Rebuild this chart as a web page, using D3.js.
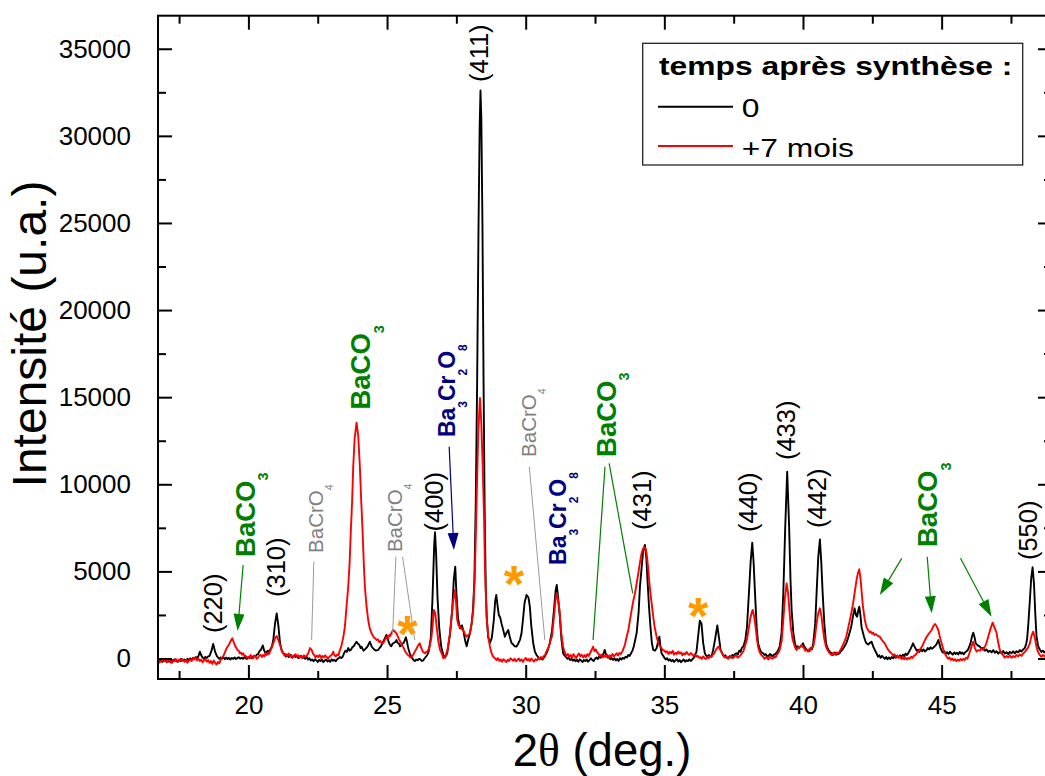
<!DOCTYPE html>
<html><head><meta charset="utf-8">
<script src="https://cdn.jsdelivr.net/npm/d3@7"></script>
<style>
body{margin:0;background:#fff}
svg{display:block}
text{font-family:"Liberation Sans",Arial,sans-serif}
</style>
</head><body>
<svg id="chart" width="1045" height="776"></svg>
<script>
// ---------------- DATA ----------------
const xDomain = [16.74, 48.98];
const yDomain = [-1177, 36897];
const xTicksMajor = [20, 25, 30, 35, 40, 45];
const xTicksMinor = [17.5, 22.5, 27.5, 32.5, 37.5, 42.5, 47.5];
const yTicksMajor = [0, 5000, 10000, 15000, 20000, 25000, 30000, 35000];
const yTicksMinor = [2500, 7500, 12500, 17500, 22500, 27500, 32500];

const legendTitle = "temps après synthèse :";
const seriesNames = ["0", "+7 mois"];
const seriesColors = ["#000000", "#ff0000"];

// scan at t = 0  [2theta, intensity]
const scan0 = [
[16.75,-150],[16.8,-40],[16.85,-110],[16.9,-200],[16.95,-90],[17.0,-160],[17.05,-60],[17.1,-190],[17.15,-110],[17.2,-230],
[17.25,-90],[17.3,-150],[17.35,-40],[17.4,-130],[17.45,-200],[17.5,-80],[17.55,-140],[17.6,-30],[17.65,-120],[17.7,-60],
[17.75,-170],[17.8,-20],[17.85,-90],[17.9,10],[17.95,-80],[18.0,40],[18.05,-30],[18.1,90],[18.15,20],[18.2,150],
[18.25,390],[18.3,180],[18.35,60],[18.4,-20],[18.45,90],[18.5,30],[18.55,120],[18.6,150],[18.67,450],[18.73,830],
[18.8,380],[18.87,120],[18.95,-20],[19.0,60],[19.05,-10],[19.1,70],[19.15,-40],[19.2,50],[19.25,-30],[19.3,40],
[19.35,-60],[19.4,30],[19.45,-20],[19.5,60],[19.55,-30],[19.6,20],[19.65,70],[19.7,-10],[19.75,40],[19.8,-20],
[19.85,80],[19.9,10],[19.95,-20],[20.0,60],[20.05,110],[20.1,30],[20.15,90],[20.2,160],[20.25,100],[20.3,220],
[20.35,250],[20.4,420],[20.45,500],[20.52,750],[20.57,450],[20.62,300],[20.7,450],[20.75,380],[20.8,550],[20.85,700],
[20.9,1100],[20.96,2000],[21.02,2590],[21.08,1900],[21.14,900],[21.2,450],[21.25,320],[21.3,250],[21.35,120],[21.4,200],
[21.45,80],[21.5,220],[21.55,100],[21.6,40],[21.65,180],[21.7,90],[21.75,160],[21.8,20],[21.85,110],[21.9,150],
[21.95,30],[22.0,90],[22.05,-20],[22.1,100],[22.15,-60],[22.2,20],[22.25,-120],[22.3,-60],[22.35,-160],[22.4,-40],
[22.45,-110],[22.5,-200],[22.55,-80],[22.6,-150],[22.65,-50],[22.7,-210],[22.75,-120],[22.8,-60],[22.85,-170],[22.9,-100],
[22.95,-190],[23.0,-50],[23.05,-130],[23.1,-80],[23.15,-160],[23.2,-40],[23.25,20],[23.3,80],[23.35,30],[23.4,100],
[23.45,300],[23.5,450],[23.55,380],[23.6,600],[23.65,450],[23.7,500],[23.75,650],[23.8,700],[23.85,850],[23.9,965],
[23.95,850],[24.0,780],[24.05,600],[24.08,680],[24.15,450],[24.2,520],[24.25,600],[24.3,700],[24.38,965],[24.44,700],
[24.5,585],[24.55,500],[24.6,450],[24.68,490],[24.73,600],[24.78,700],[24.82,850],[24.86,965],[24.92,1150],[24.98,1350],
[25.05,1000],[25.1,800],[25.15,700],[25.2,850],[25.25,900],[25.3,950],[25.34,1060],[25.38,900],[25.43,850],[25.47,700],
[25.52,775],[25.56,850],[25.6,900],[25.64,1050],[25.68,1215],[25.72,950],[25.75,700],[25.78,500],[25.82,300],[25.86,150],
[25.9,50],[25.95,-80],[26.0,-150],[26.05,-60],[26.1,-100],[26.15,-20],[26.2,-50],[26.25,-140],[26.3,-120],[26.35,0],
[26.4,100],[26.45,200],[26.5,400],[26.58,1200],[26.64,3500],[26.7,6500],[26.73,7250],[26.77,6000],[26.82,3500],[26.88,1800],
[26.95,700],[27.03,200],[27.09,50],[27.17,300],[27.27,1400],[27.35,2800],[27.41,4600],[27.46,5270],[27.5,3800],[27.56,2300],
[27.63,1730],[27.7,1900],[27.75,1610],[27.82,1000],[27.87,700],[27.93,1100],[27.99,1450],[28.05,2000],[28.1,2800],[28.15,4500],
[28.2,9000],[28.25,16000],[28.3,25000],[28.34,30500],[28.37,32600],[28.4,31000],[28.44,25000],[28.48,16000],[28.52,8500],[28.56,4000],
[28.6,2200],[28.65,1200],[28.71,890],[28.78,1200],[28.85,2200],[28.9,3300],[28.94,3645],[28.98,3100],[29.03,2500],[29.08,2350],
[29.13,2000],[29.18,1700],[29.25,1250],[29.3,1450],[29.37,1636],[29.43,1200],[29.49,890],[29.55,800],[29.61,700],[29.67,680],
[29.73,850],[29.8,1100],[29.85,1450],[29.9,2200],[29.96,3200],[30.03,3645],[30.1,3500],[30.15,2975],[30.2,1900],[30.27,890],
[30.33,400],[30.39,200],[30.45,80],[30.5,-40],[30.55,20],[30.6,-60],[30.65,40],[30.7,150],[30.74,280],[30.78,400],
[30.87,890],[30.95,1600],[31.02,2800],[31.08,3900],[31.12,4220],[31.17,3500],[31.23,2400],[31.29,1100],[31.35,300],[31.4,180],
[31.45,100],[31.5,-20],[31.55,40],[31.6,-90],[31.65,-20],[31.7,-130],[31.75,-40],[31.8,-160],[31.85,-70],[31.9,-190],
[31.95,-50],[32.0,-120],[32.05,-200],[32.1,-80],[32.15,-150],[32.2,-60],[32.25,-180],[32.3,-90],[32.35,10],[32.4,-80],
[32.45,-150],[32.5,-20],[32.55,60],[32.6,-30],[32.65,110],[32.7,40],[32.75,180],[32.8,250],[32.85,490],[32.9,220],
[32.95,60],[33.0,120],[33.05,-40],[33.1,30],[33.15,-80],[33.2,10],[33.25,-110],[33.3,-30],[33.35,-140],[33.4,20],
[33.45,-60],[33.5,40],[33.55,-20],[33.6,100],[33.65,60],[33.7,200],[33.75,150],[33.8,300],[33.85,450],[33.9,700],
[34.0,1446],[34.07,2600],[34.12,4120],[34.18,5200],[34.24,6230],[34.3,6515],[34.35,5800],[34.4,4300],[34.45,2900],[34.5,1800],
[34.55,900],[34.6,490],[34.66,450],[34.72,585],[34.78,1000],[34.82,1250],[34.86,700],[34.9,300],[35.0,50],[35.05,-60],
[35.1,20],[35.15,-120],[35.2,-50],[35.25,-160],[35.3,-80],[35.35,-200],[35.4,-110],[35.45,-40],[35.5,-170],[35.55,-90],
[35.6,-210],[35.65,-130],[35.7,-60],[35.75,-180],[35.8,-100],[35.85,-150],[35.9,-50],[35.95,-140],[36.0,-70],[36.05,20],
[36.1,150],[36.16,390],[36.22,1300],[36.28,2170],[36.34,2000],[36.4,900],[36.46,300],[36.5,180],[36.55,100],[36.6,200],
[36.65,150],[36.7,100],[36.76,490],[36.83,1100],[36.91,1900],[36.97,1200],[37.03,490],[37.1,250],[37.15,120],[37.2,180],
[37.25,40],[37.3,10],[37.35,130],[37.4,60],[37.45,200],[37.5,140],[37.55,260],[37.6,300],[37.65,220],[37.7,450],
[37.75,380],[37.79,600],[37.85,700],[37.92,1062],[37.98,1800],[38.05,3740],[38.11,5500],[38.17,6650],[38.22,5500],[38.27,3740],
[38.33,1800],[38.38,870],[38.45,500],[38.5,350],[38.56,300],[38.61,200],[38.66,250],[38.71,120],[38.76,150],[38.81,260],
[38.85,200],[38.9,120],[38.95,220],[39.0,250],[39.04,330],[39.08,400],[39.16,680],[39.23,1500],[39.29,3740],[39.36,7565],
[39.43,10720],[39.5,7565],[39.55,4500],[39.59,2780],[39.65,1500],[39.71,870],[39.76,620],[39.8,700],[39.85,600],[39.89,680],
[39.95,750],[40.0,870],[40.04,700],[40.07,650],[40.13,500],[40.19,490],[40.23,420],[40.27,600],[40.32,520],[40.37,870],
[40.44,2000],[40.49,3740],[40.55,5800],[40.61,6840],[40.66,5500],[40.71,3740],[40.77,2000],[40.83,870],[40.88,620],[40.92,500],
[40.97,380],[41.03,300],[41.08,200],[41.15,350],[41.2,220],[41.25,250],[41.32,300],[41.37,420],[41.42,500],[41.5,700],
[41.56,870],[41.65,1300],[41.74,1825],[41.8,2400],[41.86,2880],[41.91,2500],[41.95,2400],[42.0,2800],[42.03,2975],[42.07,2500],
[42.11,1825],[42.16,1500],[42.2,1250],[42.25,1000],[42.29,870],[42.35,800],[42.42,900],[42.47,965],[42.53,700],[42.59,490],
[42.65,300],[42.71,100],[42.75,180],[42.8,40],[42.85,150],[42.9,60],[42.95,-20],[43.0,80],[43.05,-40],[43.1,60],
[43.15,-30],[43.2,90],[43.25,10],[43.3,120],[43.35,40],[43.4,150],[43.45,60],[43.5,180],[43.55,100],[43.6,220],
[43.65,140],[43.7,280],[43.75,200],[43.8,320],[43.88,550],[43.97,870],[44.0,750],[44.05,600],[44.1,450],[44.15,500],
[44.2,380],[44.25,560],[44.3,420],[44.35,520],[44.4,400],[44.46,490],[44.5,600],[44.55,520],[44.6,640],[44.65,560],
[44.7,620],[44.75,700],[44.8,780],[44.84,900],[44.88,1062],[44.92,850],[44.96,600],[45.0,450],[45.05,330],[45.1,420],
[45.15,280],[45.2,360],[45.25,250],[45.3,390],[45.35,300],[45.4,220],[45.45,350],[45.5,260],[45.55,330],[45.6,230],
[45.65,380],[45.7,270],[45.75,340],[45.8,240],[45.85,360],[45.9,420],[45.95,500],[46.04,870],[46.1,1300],[46.14,1480],
[46.19,1200],[46.23,870],[46.3,750],[46.38,680],[46.44,560],[46.5,620],[46.56,450],[46.62,520],[46.68,380],[46.74,450],
[46.8,350],[46.86,480],[46.92,330],[46.98,420],[47.04,280],[47.1,380],[47.16,300],[47.22,430],[47.28,280],[47.34,360],
[47.4,250],[47.46,380],[47.52,300],[47.58,410],[47.64,290],[47.7,420],[47.76,350],[47.82,480],[47.88,400],[47.94,520],
[48.0,600],[48.05,850],[48.08,1100],[48.12,1825],[48.18,3300],[48.23,4600],[48.28,5235],[48.33,4300],[48.38,2500],[48.42,1300],
[48.48,700],[48.55,490],[48.6,380],[48.65,450],[48.7,350],[48.75,420],[48.8,400],[48.98,350]
];

// scan at t = +7 months
const scan7 = [
[16.75,-100],[16.8,-230],[16.85,-130],[16.9,-40],[16.95,-150],[17.0,-80],[17.05,-220],[17.1,-100],[17.15,-30],[17.2,-170],
[17.25,-250],[17.3,-90],[17.35,-160],[17.4,-40],[17.45,-200],[17.5,-100],[17.55,-20],[17.6,-150],[17.65,-60],[17.7,-190],
[17.75,-80],[17.8,-240],[17.85,-130],[17.9,-40],[17.95,-150],[18.0,20],[18.05,-60],[18.1,60],[18.15,-100],[18.2,-20],
[18.25,-150],[18.3,-60],[18.35,-220],[18.4,-100],[18.45,-30],[18.5,-180],[18.55,-90],[18.6,-250],[18.65,-150],[18.7,-310],
[18.75,-120],[18.8,-240],[18.85,-350],[18.9,-200],[18.95,-280],[19.0,-80],[19.05,50],[19.1,150],[19.16,380],[19.21,585],
[19.26,700],[19.3,800],[19.36,1000],[19.42,1160],[19.48,900],[19.53,700],[19.57,585],[19.61,480],[19.65,450],[19.69,300],
[19.73,350],[19.77,220],[19.81,300],[19.85,180],[19.9,150],[19.95,40],[20.0,100],[20.04,0],[20.08,200],[20.12,80],
[20.17,0],[20.21,160],[20.25,120],[20.3,-20],[20.35,50],[20.4,180],[20.45,200],[20.49,90],[20.53,200],[20.58,120],
[20.62,300],[20.66,200],[20.7,350],[20.74,250],[20.78,390],[20.85,650],[20.92,965],[20.97,1200],[21.02,1290],[21.08,1050],
[21.14,775],[21.2,500],[21.25,300],[21.3,180],[21.35,260],[21.4,150],[21.45,280],[21.5,90],[21.55,200],[21.6,60],
[21.65,170],[21.7,240],[21.75,110],[21.8,190],[21.85,40],[21.9,130],[21.95,60],[22.0,180],[22.05,90],[22.1,160],
[22.16,300],[22.22,600],[22.28,490],[22.33,280],[22.38,180],[22.42,60],[22.47,170],[22.52,80],[22.57,200],[22.62,30],
[22.67,150],[22.72,60],[22.77,180],[22.82,90],[22.87,-20],[22.92,100],[22.98,180],[23.02,250],[23.06,390],[23.1,200],
[23.15,120],[23.2,230],[23.25,180],[23.28,400],[23.32,550],[23.36,775],[23.42,1200],[23.48,1825],[23.54,3000],[23.6,4120],
[23.65,5500],[23.69,7186],[23.74,9000],[23.78,11010],[23.83,12600],[23.9,13535],[23.96,12800],[24.02,11010],[24.07,9000],[24.12,7186],
[24.16,5500],[24.2,4120],[24.26,3000],[24.32,2210],[24.38,1700],[24.44,1446],[24.49,1300],[24.53,1200],[24.58,1150],[24.62,1062],
[24.67,1100],[24.72,950],[24.76,1000],[24.8,900],[24.86,870],[24.92,1060],[25.0,1250],[25.04,1150],[25.08,1350],[25.12,1300],
[25.15,1450],[25.22,1636],[25.28,1550],[25.34,1446],[25.38,1300],[25.43,1100],[25.48,950],[25.52,870],[25.56,700],[25.6,600],
[25.65,420],[25.7,300],[25.75,200],[25.8,150],[25.84,60],[25.88,100],[25.93,180],[25.97,300],[26.02,450],[26.07,585],
[26.12,750],[26.18,870],[26.22,650],[26.25,550],[26.29,400],[26.32,350],[26.37,300],[26.41,380],[26.45,400],[26.52,585],
[26.6,1200],[26.64,1825],[26.69,2780],[26.74,2600],[26.79,1800],[26.85,1000],[26.91,500],[26.97,300],[27.03,10],[27.1,100],
[27.18,500],[27.27,1446],[27.34,2600],[27.39,3360],[27.45,3930],[27.49,3200],[27.53,2210],[27.58,1900],[27.63,1825],[27.69,1700],
[27.75,1610],[27.81,1400],[27.87,1250],[27.93,1350],[27.99,1446],[28.05,2000],[28.11,2780],[28.17,5000],[28.23,9100],[28.29,13000],
[28.35,14950],[28.4,13500],[28.45,11010],[28.5,8000],[28.53,5270],[28.59,2400],[28.65,1300],[28.71,680],[28.77,300],[28.83,100],
[28.9,0],[28.95,-90],[29.0,20],[29.05,-140],[29.1,-60],[29.15,-180],[29.2,-40],[29.25,-120],[29.3,-200],[29.35,-70],
[29.4,-150],[29.45,10],[29.5,-60],[29.55,-130],[29.6,-20],[29.65,-160],[29.7,-80],[29.75,0],[29.8,-140],[29.85,-50],
[29.9,-190],[29.95,-60],[30.0,30],[30.05,-100],[30.1,-30],[30.15,-150],[30.2,0],[30.25,-90],[30.3,-170],[30.35,-40],
[30.4,-110],[30.45,20],[30.5,-50],[30.55,80],[30.6,20],[30.65,130],[30.7,200],[30.74,380],[30.78,500],[30.83,650],
[30.87,890],[30.95,1300],[31.02,2400],[31.08,3400],[31.12,3740],[31.17,3300],[31.22,2780],[31.28,1500],[31.35,680],[31.42,300],
[31.47,150],[31.52,260],[31.57,90],[31.62,200],[31.67,50],[31.72,250],[31.77,130],[31.82,30],[31.87,180],[31.92,290],
[31.97,120],[32.02,220],[32.07,60],[32.12,190],[32.17,80],[32.22,250],[32.27,140],[32.32,300],[32.38,500],[32.43,680],
[32.48,420],[32.53,520],[32.58,350],[32.63,260],[32.68,130],[32.73,220],[32.78,60],[32.83,170],[32.88,90],[32.93,230],
[32.98,40],[33.03,180],[33.08,80],[33.13,260],[33.18,120],[33.23,200],[33.28,300],[33.33,170],[33.38,320],[33.43,250],
[33.5,450],[33.58,800],[33.64,1250],[33.7,1600],[33.76,2200],[33.82,2780],[33.88,3300],[33.94,3740],[34.0,4300],[34.06,4890],
[34.12,5500],[34.18,6040],[34.23,6300],[34.27,6380],[34.32,6300],[34.36,6040],[34.41,5300],[34.45,4505],[34.51,3600],[34.57,2780],
[34.64,1900],[34.72,1250],[34.8,800],[34.85,700],[34.9,585],[34.95,480],[35.0,450],[35.05,350],[35.1,420],[35.15,260],
[35.2,380],[35.25,300],[35.3,440],[35.35,220],[35.4,330],[35.45,250],[35.5,400],[35.55,280],[35.6,350],[35.65,180],
[35.7,300],[35.75,230],[35.8,380],[35.85,260],[35.9,200],[35.95,320],[36.0,250],[36.05,150],[36.1,230],[36.15,100],
[36.2,160],[36.25,40],[36.3,80],[36.35,-20],[36.4,120],[36.45,30],[36.5,-30],[36.55,80],[36.6,20],[36.65,140],
[36.7,100],[36.75,220],[36.8,300],[36.88,550],[36.95,680],[37.03,450],[37.12,200],[37.18,60],[37.25,100],[37.3,-20],
[37.35,80],[37.4,150],[37.45,20],[37.5,50],[37.55,160],[37.6,150],[37.65,40],[37.7,100],[37.75,200],[37.8,300],
[37.85,420],[37.9,680],[37.98,1100],[38.04,1700],[38.1,2300],[38.16,2700],[38.19,2780],[38.24,2400],[38.29,1825],[38.34,1100],
[38.38,680],[38.42,450],[38.46,300],[38.51,180],[38.56,100],[38.61,-20],[38.66,80],[38.7,50],[38.75,-60],[38.8,100],
[38.85,20],[38.92,0],[38.97,120],[39.01,60],[39.05,200],[39.1,300],[39.16,490],[39.23,1000],[39.29,2210],[39.35,3500],
[39.41,4315],[39.46,3800],[39.5,2975],[39.56,1800],[39.63,1062],[39.7,700],[39.74,550],[39.77,490],[39.81,600],[39.86,600],
[39.91,700],[39.95,785],[40.0,650],[40.04,600],[40.08,450],[40.13,490],[40.18,400],[40.23,550],[40.27,480],[40.3,600],
[40.37,680],[40.43,1200],[40.49,2020],[40.55,2600],[40.61,2880],[40.66,2500],[40.71,1825],[40.77,1100],[40.83,680],[40.88,500],
[40.92,400],[40.97,280],[41.03,200],[41.08,320],[41.12,300],[41.17,220],[41.22,350],[41.27,300],[41.32,400],[41.37,550],
[41.42,700],[41.5,1000],[41.56,1250],[41.65,1900],[41.74,2590],[41.8,3100],[41.86,3740],[41.93,4500],[41.98,4900],[42.03,5120],
[42.08,4500],[42.11,3930],[42.16,3000],[42.23,2210],[42.29,1800],[42.35,1636],[42.4,1500],[42.44,1550],[42.49,1420],[42.53,1480],
[42.58,1350],[42.63,1400],[42.7,1300],[42.77,1250],[42.81,1150],[42.85,1050],[42.9,950],[42.95,870],[43.0,700],[43.05,550],
[43.12,400],[43.19,300],[43.25,180],[43.3,240],[43.35,90],[43.4,170],[43.45,40],[43.5,120],[43.55,-30],[43.6,80],
[43.65,-40],[43.7,60],[43.75,-60],[43.8,40],[43.85,-20],[43.9,100],[43.95,30],[44.0,150],[44.05,200],[44.13,350],
[44.21,490],[44.3,700],[44.38,1000],[44.46,1250],[44.55,1450],[44.64,1636],[44.7,1850],[44.76,1980],[44.82,1850],[44.88,1636],
[44.94,1200],[45.0,870],[45.04,650],[45.08,400],[45.13,250],[45.18,100],[45.23,-20],[45.28,60],[45.33,-80],[45.38,0],
[45.43,-120],[45.48,-40],[45.53,-150],[45.58,-60],[45.63,-130],[45.68,-30],[45.73,-110],[45.78,-20],[45.83,-90],[45.88,40],
[45.93,-10],[45.98,200],[46.04,490],[46.1,800],[46.14,965],[46.2,600],[46.26,400],[46.32,480],[46.38,450],[46.44,560],
[46.5,490],[46.55,650],[46.6,800],[46.68,1250],[46.76,1700],[46.84,2055],[46.9,1800],[46.98,1480],[47.04,900],[47.1,490],
[47.16,300],[47.22,180],[47.28,50],[47.34,150],[47.4,60],[47.46,180],[47.52,40],[47.58,140],[47.64,70],[47.7,200],
[47.76,120],[47.82,230],[47.88,150],[47.94,280],[48.0,380],[48.06,490],[48.12,650],[48.18,870],[48.24,1300],[48.3,1540],
[48.36,1200],[48.42,680],[48.46,450],[48.5,300],[48.55,180],[48.6,100],[48.65,200],[48.7,150],[48.75,60],[48.8,100],
[48.98,120]
];

// Miller index labels (rotated), anchored at [2theta, intensity] of their lower end
const hklText = ["(220)", "(310)", "(400)", "(411)", "(431)", "(440)", "(433)", "(442)", "(550)"];
const hklTheta = [18.76, 21.06, 26.73, 28.38, 34.23, 38.05, 39.42, 40.54, 48.15];
const hklI = [1460, 3530, 7290, 33090, 7380, 7260, 11390, 7490, 5650];

// impurity phase labels
const phaseText = ["BaCO3", "BaCrO4", "BaCO3", "BaCrO4", "Ba3Cr2O8", "BaCrO4", "Ba3Cr2O8", "BaCO3", "BaCO3"];
const phaseTheta = [19.87, 22.43, 24.02, 25.28, 27.16, 30.10, 31.16, 32.89, 44.47];
const phaseI = [5830, 6060, 14290, 6110, 12710, 11570, 5370, 11570, 6400];

// pointer lines
const pointerPhase = ["BaCO3", "BaCrO4", "BaCrO4", "BaCrO4", "Ba3Cr2O8", "BaCrO4", "BaCO3", "BaCO3", "BaCO3", "BaCO3", "BaCO3"];
const pointerFrom = [[19.81, 5370], [22.36, 5560], [25.32, 5840], [25.56, 5840], [27.24, 12160], [30.13, 11010], [32.86, 11010], [33.01, 11200], [43.56, 5750], [44.48, 5840], [45.68, 5750]];
const pointerTo = [[19.61, 1580], [22.28, 1060], [25.20, 1350], [26.00, 1060], [27.41, 6230], [30.69, 1060], [32.43, 1060], [33.86, 3740], [42.77, 3650], [44.64, 2600], [46.80, 2400]];
const pointerArrow = [true, false, false, false, true, false, false, false, true, true, true];

// asterisks (unidentified peaks)
const starTheta = [25.73, 29.57, 36.22];
const starI = [2020, 4890, 3070];

// ---------------- CHART ----------------
const svg = d3.select("#chart");
const M = {left: 158, right: 1052, top: 15.7, bottom: 679};
const x = d3.scaleLinear().domain(xDomain).range([M.left, M.right]);
const y = d3.scaleLinear().domain(yDomain).range([M.bottom, M.top]);

const phaseStyle = {
  "BaCO3":    {color: "#008000", size: 27.5, weight: "bold", line: "#008000"},
  "BaCrO4":   {color: "#808080", size: 20.5, weight: "normal", line: "#9a9a9a"},
  "Ba3Cr2O8": {color: "#000080", size: 23, weight: "bold", line: "#000080"}
};

svg.append("defs").append("clipPath").attr("id", "plotclip")
  .append("rect").attr("x", M.left).attr("y", M.top)
  .attr("width", M.right - M.left).attr("height", M.bottom - M.top);

// curves
const line = d3.line().x(d => x(d[0])).y(d => y(d[1]));
const curves = svg.append("g").attr("clip-path", "url(#plotclip)");
[scan0, scan7].forEach((s, i) => {
  curves.append("path").datum(s).attr("d", line)
    .attr("fill", "none").attr("stroke", seriesColors[i])
    .attr("stroke-width", 1.9).attr("stroke-linejoin", "round");
});

// axes
function styleAxis(g) {
  g.select(".domain").remove();
  g.selectAll("line").attr("stroke", "#000").attr("stroke-width", 2);
  g.selectAll("text").attr("font-size", 26).attr("fill", "#000")
    .attr("font-family", '"Liberation Sans", Arial, sans-serif');
}
svg.append("g").attr("transform", `translate(0,${M.bottom})`)
  .call(d3.axisBottom(x).tickValues(xTicksMajor).tickSize(-14).tickPadding(16.5).tickFormat(d3.format("d"))).call(styleAxis);
svg.append("g").attr("transform", `translate(0,${M.bottom})`)
  .call(d3.axisBottom(x).tickValues(xTicksMinor).tickSize(-8).tickFormat("")).call(styleAxis);
svg.append("g").attr("transform", `translate(0,${M.top})`)
  .call(d3.axisTop(x).tickValues(xTicksMajor).tickSize(-14).tickFormat("")).call(styleAxis);
svg.append("g").attr("transform", `translate(0,${M.top})`)
  .call(d3.axisTop(x).tickValues(xTicksMinor).tickSize(-8).tickFormat("")).call(styleAxis);
svg.append("g").attr("transform", `translate(${M.left},0)`)
  .call(d3.axisLeft(y).tickValues(yTicksMajor).tickSize(-14).tickPadding(27).tickFormat(d3.format("d"))).call(styleAxis);
svg.append("g").attr("transform", `translate(${M.left},0)`)
  .call(d3.axisLeft(y).tickValues(yTicksMinor).tickSize(-8).tickFormat("")).call(styleAxis);
svg.append("g").attr("transform", `translate(${M.right},0)`)
  .call(d3.axisRight(y).tickValues(yTicksMajor).tickSize(-14).tickFormat("")).call(styleAxis);
svg.append("g").attr("transform", `translate(${M.right},0)`)
  .call(d3.axisRight(y).tickValues(yTicksMinor).tickSize(-8).tickFormat("")).call(styleAxis);

svg.append("rect").attr("x", M.left).attr("y", M.top)
  .attr("width", M.right - M.left).attr("height", M.bottom - M.top)
  .attr("fill", "none").attr("stroke", "#000").attr("stroke-width", 2);

// axis titles
const xt = svg.append("text").attr("x", (M.left + 1046) / 2).attr("y", 766)
  .attr("text-anchor", "middle").attr("font-size", 45.5).attr("fill", "#000");
xt.append("tspan").text("2");
xt.append("tspan").attr("font-family", '"Liberation Serif", "Times New Roman", serif').text("θ");
xt.append("tspan").text(" (deg.)");

svg.append("text").attr("transform", "translate(46,334) rotate(-90)")
  .attr("text-anchor", "middle").attr("font-size", 48).attr("fill", "#000")
  .text("Intensité (u.a.)");

// pointers
const ann = svg.append("g");
pointerPhase.forEach((p, i) => {
  const st = phaseStyle[p];
  const x1 = x(pointerFrom[i][0]), y1 = y(pointerFrom[i][1]);
  const x2 = x(pointerTo[i][0]), y2 = y(pointerTo[i][1]);
  const a = Math.atan2(y2 - y1, x2 - x1);
  const L = 17, w = 5.5;
  let ex = x2, ey = y2;
  if (pointerArrow[i]) { ex = x2 - L * Math.cos(a); ey = y2 - L * Math.sin(a); }
  ann.append("line").attr("x1", x1).attr("y1", y1).attr("x2", ex).attr("y2", ey)
    .attr("stroke", st.line).attr("stroke-width", p === "BaCrO4" ? 1 : 1.2);
  if (pointerArrow[i]) {
    const nx = -Math.sin(a), ny = Math.cos(a);
    ann.append("path")
      .attr("d", `M${x2},${y2}L${ex + w * nx},${ey + w * ny}L${ex - w * nx},${ey - w * ny}Z`)
      .attr("fill", st.line);
  }
});

// rotated Miller labels
hklText.forEach((t, i) => {
  ann.append("text")
    .attr("transform", `translate(${x(hklTheta[i])},${y(hklI[i])}) rotate(-90)`)
    .attr("dy", "0.3em").attr("font-size", 25.5).attr("fill", "#000").text(t);
});

// rotated phase labels with subscripts
phaseText.forEach((t, i) => {
  const st = phaseStyle[t];
  const tx = ann.append("text")
    .attr("transform", `translate(${x(phaseTheta[i])},${y(phaseI[i])}) rotate(-90)`)
    .attr("font-size", st.size).attr("font-weight", st.weight).attr("fill", st.color);
  const parts = t.split(/(\d+)/).filter(s => s.length);
  let first = true, inSub = false;
  const baseDy = 0.36 * st.size, subShift = 0.5 * st.size;
  parts.forEach(part => {
    const isSub = /^\d+$/.test(part);
    let dy = 0;
    if (first) dy += baseDy;
    if (isSub && !inSub) dy += subShift;
    if (!isSub && inSub) dy -= subShift;
    tx.append("tspan").attr("dy", dy).attr("font-size", isSub ? st.size * 0.52 : st.size).text(part);
    inSub = isSub; first = false;
  });
});

// asterisks
starTheta.forEach((t, i) => {
  ann.append("text").attr("x", x(t)).attr("y", y(starI[i]))
    .attr("dy", "0.56em").attr("text-anchor", "middle")
    .attr("font-size", 52).attr("font-weight", "bold").attr("fill", "#ff9a00").text("*");
});

// legend
const lg = svg.append("g");
lg.append("rect").attr("x", 642.7).attr("y", 43.3).attr("width", 380).attr("height", 121.7)
  .attr("fill", "#fff").attr("stroke", "#222").attr("stroke-width", 1.3);
lg.append("text").attr("transform", "translate(659,75) scale(1.2,1)")
  .attr("font-size", 26.5).attr("font-weight", "bold").attr("fill", "#000").text(legendTitle);
seriesNames.forEach((n, i) => {
  const ly = [106.7, 146][i];
  lg.append("line").attr("x1", 658).attr("x2", 733).attr("y1", ly).attr("y2", ly)
    .attr("stroke", seriesColors[i]).attr("stroke-width", 2);
  lg.append("text").attr("transform", `translate(741.7,${ly + 10.5}) scale(1.2,1)`)
    .attr("font-size", 26.5).attr("fill", "#000").text(n);
});
</script>
</body></html>
